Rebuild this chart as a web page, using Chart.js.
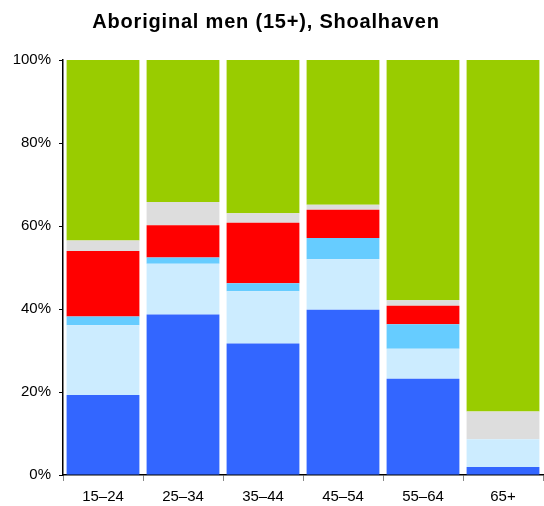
<!DOCTYPE html>
<html>
<head>
<meta charset="utf-8">
<script src="https://cdn.jsdelivr.net/npm/chart.js@4/dist/chart.umd.min.js"></script>
<style>
    html, body { margin: 0; padding: 0; background: #fff; }
    #wrap { width: 544px; height: 506px; }
</style>
</head>
<body>
<div id="wrap"><canvas id="chart" width="544" height="506"></canvas></div>
<script>
const categories = ['15–24', '25–34', '35–44', '45–54', '55–64', '65+'];

// percent of each age group, stacked bottom to top
const seriesBlue = [19.3, 38.7, 31.7, 39.8, 23.2, 1.9];
const seriesLightBlue = [16.8, 12.2, 12.6, 12.2, 7.2, 6.7];
const seriesCyan = [2.1, 1.5, 1.9, 5.1, 5.9, 0];
const seriesRed = [15.8, 7.8, 14.6, 6.8, 4.5, 0];
const seriesGrey = [2.5, 5.6, 2.3, 1.2, 1.3, 6.7];
const seriesGreen = [43.5, 34.2, 36.9, 34.9, 57.9, 84.7];

const yTicks = [0, 20, 40, 60, 80, 100];
const chartTitle = 'Aboriginal men (15+), Shoalhaven';

Chart.defaults.font.family = 'Liberation Sans, Arial, sans-serif';
Chart.defaults.color = '#000';

function makeSet(data, color) {
    return {
        data: data,
        backgroundColor: color,
        borderWidth: 0,
        barPercentage: 0.91,
        categoryPercentage: 1.0,
    };
}

// title drawn by hand, the reference sits it a little left of centre
const titlePlugin = {
    id: 'titleText',
    afterDraw(chart) {
        const ctx = chart.ctx;
        ctx.save();
        ctx.font = 'bold 20px Liberation Sans, Arial, sans-serif';
        if ('letterSpacing' in ctx) ctx.letterSpacing = '0.8px';
        ctx.fillStyle = '#000';
        ctx.textAlign = 'center';
        ctx.textBaseline = 'middle';
        ctx.fillText(chartTitle, 266, 22);
        ctx.restore();
    }
};

const canvas = document.getElementById('chart');
const config = {
    type: 'bar',
    data: {
        labels: categories,
        datasets: [
            makeSet(seriesBlue, '#3366FF'),
            makeSet(seriesLightBlue, '#CCECFF'),
            makeSet(seriesCyan, '#66CCFF'),
            makeSet(seriesRed, '#FF0000'),
            makeSet(seriesGrey, '#DDDDDD'),
            makeSet(seriesGreen, '#99CC00'),
        ]
    },
    plugins: [titlePlugin],
    options: {
        responsive: false,
        animation: false,
        layout: {
            padding: { left: 0, right: 1, top: 60, bottom: 0 }
        },
        plugins: {
            legend: { display: false },
            tooltip: { enabled: false },
            title: { display: false },
        },
        scales: {
            x: {
                stacked: true,
                border: { color: '#000', width: 1.5 },
                grid: {
                    offset: true,
                    drawOnChartArea: false,
                    drawTicks: true,
                    tickLength: 6,
                    color: '#888',
                },
                ticks: {
                    font: { size: 15 },
                    padding: 7,
                    maxRotation: 0,
                },
                afterFit: (scale) => { scale.height = 31; },
            },
            y: {
                stacked: true,
                min: 0,
                max: 100,
                border: { color: '#000', width: 1.5 },
                grid: {
                    drawOnChartArea: false,
                    drawTicks: true,
                    tickLength: 4,
                    color: '#000',
                },
                afterBuildTicks: (scale) => {
                    scale.ticks = yTicks.map(v => ({ value: v }));
                },
                ticks: {
                    font: { size: 15 },
                    padding: 8,
                    callback: (v) => v + '%',
                },
                afterFit: (scale) => { scale.width = 63; },
            },
        },
    },
};

new Chart(canvas, config);
</script>
</body>
</html>
